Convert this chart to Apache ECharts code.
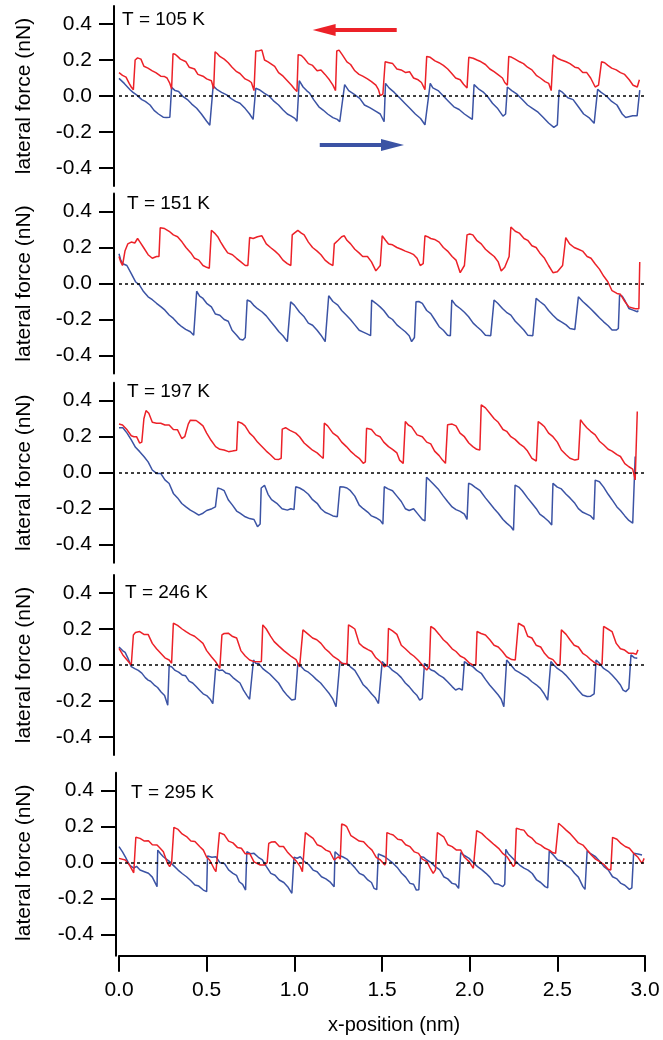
<!DOCTYPE html>
<html>
<head>
<meta charset="utf-8">
<title>lateral force vs x-position</title>
<script src="https://cdn.jsdelivr.net/npm/echarts@6/dist/echarts.min.js"></script>
<style>
  html, body { margin: 0; padding: 0; background: #fff; }
  #main { width: 663px; height: 1040px; }
</style>
</head>
<body>
<div id="main"></div>
<script>
// tick values
var xTicks = [0, 0.5, 1, 1.5, 2, 2.5, 3];
var yTicks = [-0.4, -0.2, 0, 0.2, 0.4];
var temps = ['T = 105 K', 'T = 151 K', 'T = 197 K', 'T = 246 K', 'T = 295 K'];

// [x (nm), lateral force (nN)]
var red105 = [[0,0.13],[0.02,0.115],[0.04,0.105],[0.058,0.07],[0.07,0.05],[0.082,0.035],[0.088,0.04],
  [0.092,0.2],[0.106,0.212],[0.125,0.205],[0.142,0.165],[0.165,0.155],[0.19,0.14],[0.21,0.13],[0.238,0.11],[0.26,0.108],[0.274,0.1],[0.29,0.07],[0.3,0.04],
  [0.308,0.235],[0.32,0.232],[0.334,0.22],[0.35,0.205],[0.382,0.19],[0.4,0.16],[0.431,0.15],[0.45,0.12],[0.479,0.11],[0.5,0.095],[0.527,0.085],[0.54,0.04],
  [0.548,0.245],[0.56,0.236],[0.575,0.22],[0.6,0.205],[0.623,0.185],[0.645,0.16],[0.671,0.135],[0.69,0.125],[0.719,0.095],[0.74,0.085],[0.755,0.075],[0.77,0.03],
  [0.78,0.25],[0.8,0.252],[0.815,0.255],[0.83,0.2],[0.85,0.19],[0.888,0.165],[0.91,0.13],[0.936,0.11],[0.96,0.085],[0.984,0.06],[1.0,0.04],[1.015,0.025],
  [1.022,0.23],[1.04,0.225],[1.056,0.21],[1.08,0.18],[1.104,0.17],[1.13,0.14],[1.152,0.145],[1.175,0.12],[1.2,0.09],[1.22,0.06],[1.235,0.03],
  [1.242,0.25],[1.255,0.255],[1.273,0.23],[1.3,0.19],[1.321,0.175],[1.345,0.14],[1.369,0.12],[1.39,0.11],[1.417,0.095],[1.44,0.08],[1.465,0.06],[1.48,0.035],[1.49,0.002],[1.505,0.01],
  [1.518,0.19],[1.54,0.185],[1.561,0.18],[1.585,0.15],[1.609,0.145],[1.635,0.13],[1.657,0.135],[1.68,0.1],[1.706,0.09],[1.725,0.075],[1.745,0.035],
  [1.755,0.22],[1.775,0.215],[1.802,0.195],[1.825,0.185],[1.85,0.17],[1.875,0.15],[1.898,0.125],[1.92,0.1],[1.946,0.09],[1.965,0.065],[1.985,0.045],
  [1.995,0.215],[2.02,0.21],[2.042,0.2],[2.065,0.19],[2.09,0.175],[2.115,0.15],[2.139,0.135],[2.16,0.12],[2.187,0.1],[2.2,0.075],[2.215,0.06],
  [2.223,0.22],[2.24,0.215],[2.259,0.205],[2.285,0.19],[2.307,0.18],[2.33,0.16],[2.355,0.145],[2.38,0.115],[2.403,0.1],[2.43,0.08],[2.451,0.07],[2.465,0.03],
  [2.476,0.228],[2.5,0.21],[2.523,0.2],[2.55,0.19],[2.572,0.18],[2.6,0.16],[2.62,0.155],[2.645,0.13],[2.668,0.13],[2.69,0.1],[2.716,0.05],[2.735,0.06],
  [2.752,0.19],[2.77,0.185],[2.788,0.17],[2.81,0.155],[2.836,0.145],[2.86,0.13],[2.884,0.12],[2.91,0.09],[2.932,0.06],[2.956,0.05],[2.968,0.09]];
var blue105 = [[0,0.098],[0.03,0.07],[0.063,0.035],[0.08,0.02],[0.1,0.006],[0.13,-0.02],[0.15,-0.03],[0.177,-0.05],[0.2,-0.08],[0.225,-0.1],[0.252,-0.118],[0.27,-0.12],[0.29,-0.118],
  [0.3,0.048],[0.32,0.03],[0.34,0.025],[0.366,-0.004],[0.39,-0.02],[0.415,-0.045],[0.443,-0.068],[0.47,-0.1],[0.5,-0.14],[0.518,-0.162],
  [0.537,0.056],[0.56,0.035],[0.585,0.02],[0.614,0.006],[0.64,-0.015],[0.665,-0.03],[0.69,-0.04],[0.72,-0.07],[0.745,-0.1],[0.765,-0.13],
  [0.78,0.043],[0.8,0.035],[0.83,0.015],[0.86,-0.004],[0.885,-0.03],[0.91,-0.05],[0.936,-0.078],[0.96,-0.1],[0.98,-0.11],[1.003,-0.124],[1.015,-0.14],
  [1.028,0.085],[1.05,0.05],[1.07,0.03],[1.088,0.015],[1.11,-0.02],[1.14,-0.06],[1.164,-0.078],[1.19,-0.1],[1.22,-0.12],[1.245,-0.13],[1.259,-0.143],
  [1.287,0.063],[1.31,0.03],[1.34,0.01],[1.373,-0.013],[1.4,-0.05],[1.43,-0.065],[1.468,-0.087],[1.49,-0.1],[1.512,-0.143],
  [1.52,0.07],[1.54,0.045],[1.57,0.02],[1.6,-0.01],[1.63,-0.04],[1.66,-0.07],[1.69,-0.1],[1.72,-0.125],[1.745,-0.16],
  [1.775,0.07],[1.79,0.045],[1.82,0.03],[1.85,0.0],[1.88,-0.03],[1.91,-0.06],[1.94,-0.075],[1.97,-0.1],[2.0,-0.12],[2.015,-0.13],
  [2.025,0.063],[2.05,0.04],[2.08,0.02],[2.1,0.0],[2.13,-0.04],[2.16,-0.07],[2.19,-0.112],[2.205,-0.1],
  [2.215,0.05],[2.24,0.03],[2.27,0.01],[2.3,-0.02],[2.33,-0.05],[2.36,-0.07],[2.39,-0.09],[2.42,-0.12],[2.45,-0.15],[2.48,-0.174],[2.5,-0.16],
  [2.51,0.033],[2.53,0.02],[2.56,-0.01],[2.59,-0.02],[2.62,-0.06],[2.65,-0.1],[2.68,-0.12],[2.71,-0.152],
  [2.73,0.037],[2.75,0.02],[2.78,0.0],[2.81,-0.03],[2.84,-0.05],[2.87,-0.1],[2.89,-0.12],[2.93,-0.11],[2.955,-0.11],[2.97,0.033]];

var red151 = [[0,0.15],[0.01,0.12],[0.02,0.1],[0.034,0.18],[0.05,0.22],[0.07,0.23],[0.09,0.225],[0.106,0.25],[0.12,0.23],[0.14,0.2],[0.166,0.16],[0.19,0.14],[0.214,0.15],[0.228,0.15],
  [0.235,0.31],[0.26,0.305],[0.286,0.29],[0.31,0.27],[0.334,0.26],[0.36,0.23],[0.382,0.2],[0.41,0.17],[0.431,0.14],[0.455,0.13],[0.479,0.1],[0.5,0.09],[0.515,0.085],
  [0.527,0.296],[0.545,0.28],[0.563,0.26],[0.58,0.23],[0.599,0.2],[0.62,0.17],[0.647,0.16],[0.67,0.14],[0.695,0.12],[0.72,0.1],[0.735,0.1],
  [0.745,0.255],[0.765,0.25],[0.79,0.26],[0.815,0.265],[0.84,0.22],[0.864,0.2],[0.89,0.18],[0.912,0.16],[0.935,0.13],[0.96,0.11],[0.98,0.1],
  [0.988,0.27],[1.0,0.28],[1.02,0.295],[1.04,0.28],[1.056,0.27],[1.08,0.23],[1.104,0.2],[1.13,0.18],[1.152,0.16],[1.175,0.13],[1.2,0.11],[1.22,0.1],
  [1.228,0.22],[1.25,0.24],[1.27,0.26],[1.285,0.265],[1.3,0.24],[1.321,0.22],[1.345,0.19],[1.369,0.17],[1.39,0.15],[1.417,0.15],[1.44,0.12],[1.465,0.07],[1.49,0.1],
  [1.501,0.265],[1.52,0.24],[1.537,0.22],[1.56,0.215],[1.585,0.2],[1.61,0.19],[1.633,0.18],[1.66,0.17],[1.681,0.16],[1.7,0.14],[1.718,0.1],[1.735,0.11],
  [1.745,0.265],[1.76,0.26],[1.778,0.25],[1.8,0.245],[1.826,0.23],[1.85,0.2],[1.874,0.18],[1.9,0.15],[1.922,0.13],[1.946,0.06],[1.97,0.1],
  [1.985,0.27],[2.0,0.275],[2.018,0.27],[2.04,0.24],[2.066,0.22],[2.09,0.19],[2.114,0.17],[2.14,0.15],[2.163,0.12],[2.18,0.07],[2.2,0.09],[2.225,0.15],
  [2.235,0.314],[2.26,0.29],[2.283,0.28],[2.31,0.25],[2.331,0.24],[2.355,0.21],[2.379,0.2],[2.4,0.17],[2.427,0.14],[2.45,0.1],[2.475,0.06],[2.5,0.065],[2.53,0.1],
  [2.548,0.255],[2.57,0.22],[2.596,0.2],[2.62,0.19],[2.644,0.18],[2.67,0.15],[2.692,0.14],[2.715,0.11],[2.74,0.08],[2.765,0.04],[2.788,0.01],[2.812,-0.04],[2.84,-0.055],[2.86,-0.06],[2.885,-0.1],[2.908,-0.13],[2.944,-0.14],[2.965,-0.14],[2.97,0.12]];
var blue151 = [[0,0.165],[0.01,0.13],[0.022,0.11],[0.045,0.1],[0.07,0.055],[0.094,0.01],[0.105,0.02],[0.118,-0.01],[0.14,-0.045],[0.166,-0.074],[0.19,-0.09],[0.214,-0.11],[0.24,-0.13],[0.262,-0.148],[0.286,-0.175],[0.31,-0.194],[0.334,-0.22],[0.358,-0.24],[0.38,-0.255],[0.407,-0.268],[0.426,-0.287],
  [0.443,-0.043],[0.46,-0.07],[0.479,-0.083],[0.5,-0.11],[0.527,-0.13],[0.55,-0.17],[0.575,-0.176],[0.6,-0.2],[0.623,-0.21],[0.645,-0.26],[0.671,-0.287],[0.69,-0.31],[0.707,-0.314],[0.72,-0.3],
  [0.731,-0.092],[0.75,-0.1],[0.767,-0.12],[0.79,-0.14],[0.815,-0.157],[0.84,-0.18],[0.864,-0.21],[0.89,-0.24],[0.912,-0.268],[0.935,-0.29],[0.96,-0.323],
  [0.979,-0.102],[1.0,-0.12],[1.03,-0.16],[1.056,-0.185],[1.08,-0.22],[1.104,-0.232],[1.13,-0.26],[1.152,-0.287],[1.176,-0.323],
  [1.196,-0.068],[1.22,-0.1],[1.248,-0.12],[1.27,-0.15],[1.297,-0.176],[1.32,-0.2],[1.345,-0.23],[1.37,-0.26],[1.393,-0.27],[1.415,-0.28],[1.435,-0.29],
  [1.441,-0.092],[1.465,-0.11],[1.489,-0.13],[1.51,-0.15],[1.537,-0.185],[1.56,-0.2],[1.585,-0.23],[1.61,-0.25],[1.633,-0.268],[1.655,-0.29],[1.669,-0.323],[1.685,-0.3],
  [1.694,-0.102],[1.71,-0.1],[1.73,-0.11],[1.755,-0.15],[1.778,-0.167],[1.8,-0.2],[1.826,-0.24],[1.85,-0.26],[1.874,-0.287],[1.89,-0.29],
  [1.898,-0.092],[1.92,-0.12],[1.946,-0.139],[1.97,-0.16],[1.994,-0.185],[2.02,-0.22],[2.042,-0.24],[2.065,-0.26],[2.09,-0.287],[2.12,-0.29],
  [2.139,-0.092],[2.16,-0.11],[2.187,-0.139],[2.21,-0.16],[2.235,-0.176],[2.26,-0.21],[2.283,-0.232],[2.31,-0.26],[2.331,-0.287],[2.36,-0.29],
  [2.379,-0.083],[2.4,-0.1],[2.427,-0.12],[2.45,-0.15],[2.475,-0.176],[2.5,-0.2],[2.523,-0.213],[2.55,-0.23],[2.572,-0.25],[2.6,-0.255],
  [2.62,-0.074],[2.645,-0.1],[2.668,-0.12],[2.69,-0.14],[2.716,-0.166],[2.74,-0.19],[2.764,-0.213],[2.79,-0.235],[2.812,-0.259],[2.836,-0.259],[2.848,-0.25],
  [2.855,-0.065],[2.87,-0.07],[2.884,-0.092],[2.908,-0.139],[2.932,-0.148],[2.956,-0.157],[2.962,-0.15]];

var red197 = [[0,0.27],[0.02,0.265],[0.046,0.238],[0.07,0.205],[0.085,0.2],[0.1,0.2],[0.118,0.164],[0.13,0.17],[0.142,0.3],[0.154,0.345],[0.17,0.33],[0.19,0.28],[0.214,0.275],[0.238,0.275],[0.262,0.265],[0.286,0.265],[0.31,0.24],[0.334,0.238],[0.358,0.19],[0.375,0.2],[0.395,0.27],[0.407,0.292],[0.44,0.29],[0.46,0.275],[0.479,0.26],[0.5,0.22],[0.525,0.18],[0.551,0.145],[0.575,0.13],[0.599,0.126],[0.625,0.117],[0.647,0.12],[0.671,0.125],
  [0.678,0.284],[0.7,0.275],[0.719,0.26],[0.745,0.22],[0.767,0.2],[0.79,0.17],[0.815,0.145],[0.84,0.12],[0.864,0.1],[0.89,0.075],[0.912,0.074],[0.925,0.08],
  [0.931,0.242],[0.95,0.25],[0.975,0.235],[1.008,0.22],[1.03,0.2],[1.056,0.165],[1.08,0.145],[1.104,0.125],[1.13,0.11],[1.152,0.09],[1.165,0.08],
  [1.171,0.275],[1.19,0.26],[1.22,0.22],[1.248,0.2],[1.27,0.17],[1.297,0.145],[1.32,0.12],[1.345,0.098],[1.37,0.08],[1.393,0.052],[1.405,0.06],
  [1.412,0.247],[1.44,0.24],[1.465,0.21],[1.489,0.2],[1.51,0.17],[1.537,0.145],[1.56,0.13],[1.585,0.11],[1.6,0.07],[1.621,0.052],
  [1.633,0.284],[1.65,0.265],[1.669,0.255],[1.7,0.21],[1.73,0.2],[1.755,0.17],[1.778,0.16],[1.8,0.12],[1.826,0.095],[1.845,0.07],[1.862,0.052],
  [1.874,0.266],[1.9,0.27],[1.922,0.26],[1.945,0.22],[1.97,0.2],[1.995,0.165],[2.018,0.145],[2.04,0.13],[2.058,0.126],
  [2.066,0.377],[2.09,0.36],[2.115,0.33],[2.14,0.3],[2.163,0.28],[2.19,0.24],[2.211,0.23],[2.235,0.2],[2.259,0.185],[2.285,0.16],[2.307,0.145],[2.33,0.12],[2.355,0.08],[2.38,0.065],
  [2.391,0.284],[2.41,0.27],[2.427,0.255],[2.45,0.22],[2.475,0.2],[2.5,0.17],[2.523,0.126],[2.55,0.1],[2.572,0.08],[2.6,0.07],[2.62,0.075],
  [2.632,0.294],[2.65,0.27],[2.668,0.25],[2.69,0.23],[2.716,0.21],[2.74,0.175],[2.764,0.155],[2.79,0.13],[2.812,0.12],[2.84,0.1],[2.86,0.09],[2.885,0.05],[2.908,0.033],[2.93,0.02],[2.944,-0.04],[2.956,0.34]];
var blue197 = [[0,0.25],[0.022,0.25],[0.046,0.22],[0.07,0.182],[0.094,0.141],[0.118,0.117],[0.142,0.09],[0.166,0.06],[0.19,0.015],[0.214,-0.004],[0.238,-0.004],[0.262,-0.04],[0.286,-0.06],[0.31,-0.115],[0.334,-0.14],[0.358,-0.171],[0.382,-0.19],[0.407,-0.208],[0.43,-0.22],[0.455,-0.236],[0.479,-0.225],[0.5,-0.21],[0.53,-0.2],[0.55,-0.19],
  [0.563,-0.085],[0.58,-0.09],[0.6,-0.1],[0.623,-0.15],[0.647,-0.18],[0.671,-0.213],[0.69,-0.225],[0.72,-0.245],[0.745,-0.255],[0.77,-0.26],[0.79,-0.3],[0.805,-0.285],
  [0.811,-0.085],[0.83,-0.07],[0.85,-0.12],[0.87,-0.15],[0.9,-0.17],[0.93,-0.2],[0.96,-0.208],[0.98,-0.2],[0.998,-0.205],
  [1.008,-0.078],[1.03,-0.085],[1.056,-0.1],[1.08,-0.12],[1.104,-0.15],[1.13,-0.17],[1.152,-0.2],[1.175,-0.22],[1.2,-0.23],[1.22,-0.24],[1.245,-0.245],
  [1.26,-0.078],[1.28,-0.08],[1.3,-0.085],[1.32,-0.1],[1.345,-0.13],[1.37,-0.18],[1.393,-0.2],[1.42,-0.22],[1.44,-0.24],[1.465,-0.25],[1.49,-0.265],[1.505,-0.286],
  [1.513,-0.078],[1.535,-0.09],[1.56,-0.1],[1.585,-0.13],[1.61,-0.16],[1.633,-0.2],[1.655,-0.21],[1.68,-0.2],[1.705,-0.23],[1.73,-0.26],[1.745,-0.268],
  [1.754,-0.026],[1.77,-0.04],[1.79,-0.06],[1.82,-0.09],[1.85,-0.13],[1.874,-0.16],[1.9,-0.19],[1.922,-0.205],[1.946,-0.215],[1.97,-0.23],[1.985,-0.26],
  [1.994,-0.059],[2.01,-0.065],[2.03,-0.08],[2.06,-0.1],[2.09,-0.14],[2.115,-0.17],[2.14,-0.2],[2.163,-0.225],[2.19,-0.26],[2.211,-0.28],[2.235,-0.3],[2.25,-0.32],
  [2.259,-0.069],[2.28,-0.08],[2.3,-0.1],[2.33,-0.14],[2.355,-0.17],[2.38,-0.2],[2.4,-0.23],[2.427,-0.25],[2.45,-0.27],[2.468,-0.29],
  [2.475,-0.059],[2.5,-0.08],[2.523,-0.09],[2.55,-0.12],[2.572,-0.14],[2.6,-0.17],[2.62,-0.2],[2.645,-0.22],[2.668,-0.23],[2.69,-0.24],[2.708,-0.26],
  [2.716,-0.041],[2.74,-0.05],[2.764,-0.08],[2.79,-0.12],[2.812,-0.15],[2.84,-0.19],[2.86,-0.21],[2.885,-0.24],[2.908,-0.265],[2.93,-0.28],[2.938,-0.27],[2.944,0.09]];

var red246 = [[0,0.093],[0.022,0.056],[0.046,0.028],[0.07,0.0],[0.078,0.002],
  [0.082,0.167],[0.094,0.18],[0.118,0.186],[0.142,0.17],[0.166,0.17],[0.19,0.12],[0.214,0.09],[0.238,0.065],[0.262,0.04],[0.286,0.028],[0.3,0.01],
  [0.31,0.232],[0.334,0.22],[0.36,0.2],[0.382,0.185],[0.407,0.17],[0.431,0.16],[0.455,0.14],[0.479,0.12],[0.5,0.08],[0.527,0.046],[0.55,0.02],[0.575,-0.019],
  [0.587,0.167],[0.6,0.175],[0.623,0.177],[0.645,0.16],[0.671,0.15],[0.695,0.08],[0.72,0.05],[0.745,0.028],[0.767,0.02],[0.8,0.018],[0.812,0.02],
  [0.82,0.223],[0.84,0.2],[0.864,0.16],[0.885,0.13],[0.912,0.105],[0.94,0.08],[0.96,0.065],[0.984,0.046],[1.01,0.03],[1.03,-0.01],[1.04,0.0],
  [1.049,0.195],[1.08,0.17],[1.104,0.15],[1.128,0.14],[1.152,0.12],[1.176,0.09],[1.2,0.07],[1.224,0.046],[1.25,0.03],[1.27,0.01],[1.3,0.005],
  [1.309,0.223],[1.33,0.21],[1.345,0.2],[1.37,0.12],[1.393,0.1],[1.42,0.085],[1.441,0.075],[1.465,0.04],[1.489,0.02],[1.513,-0.01],[1.53,0.0],
  [1.537,0.204],[1.56,0.19],[1.585,0.17],[1.61,0.11],[1.633,0.09],[1.66,0.065],[1.681,0.05],[1.705,0.028],[1.73,0.0],[1.755,-0.028],[1.77,-0.01],
  [1.778,0.214],[1.8,0.2],[1.826,0.17],[1.85,0.14],[1.874,0.12],[1.9,0.09],[1.922,0.075],[1.946,0.05],[1.97,0.038],[2.0,0.01],[2.018,0.0],[2.035,0.0],
  [2.042,0.186],[2.065,0.175],[2.09,0.167],[2.115,0.14],[2.139,0.11],[2.163,0.1],[2.187,0.075],[2.21,0.046],[2.24,0.03],[2.26,0.028],[2.27,0.02],
  [2.278,0.232],[2.31,0.214],[2.331,0.16],[2.355,0.15],[2.379,0.11],[2.405,0.1],[2.427,0.065],[2.45,0.04],[2.475,0.03],[2.5,0.0],[2.515,0.0],
  [2.523,0.195],[2.55,0.17],[2.572,0.14],[2.596,0.11],[2.62,0.1],[2.645,0.065],[2.668,0.05],[2.692,0.028],[2.716,0.01],[2.74,0.0],[2.755,0.005],
  [2.764,0.214],[2.788,0.2],[2.812,0.186],[2.836,0.12],[2.86,0.09],[2.884,0.083],[2.908,0.065],[2.932,0.065],[2.95,0.06],[2.96,0.084]];
var blue246 = [[0,0.1],[0.02,0.08],[0.035,0.07],[0.05,0.04],[0.07,-0.009],[0.09,-0.02],[0.11,-0.03],[0.13,-0.045],[0.15,-0.07],[0.166,-0.084],[0.18,-0.09],[0.2,-0.11],[0.22,-0.125],[0.24,-0.15],[0.26,-0.17],[0.27,-0.18],[0.278,-0.223],
  [0.286,-0.006],[0.3,-0.01],[0.32,-0.03],[0.34,-0.04],[0.36,-0.055],[0.38,-0.06],[0.4,-0.09],[0.42,-0.1],[0.44,-0.12],[0.46,-0.14],[0.48,-0.16],[0.5,-0.17],[0.52,-0.19],[0.535,-0.215],
  [0.551,-0.019],[0.57,-0.03],[0.59,-0.028],[0.61,-0.045],[0.63,-0.05],[0.65,-0.07],[0.67,-0.085],[0.69,-0.1],[0.71,-0.14],[0.73,-0.17],[0.745,-0.19],[0.755,-0.185],
  [0.767,0.028],[0.78,0.01],[0.8,0.005],[0.82,-0.02],[0.84,-0.035],[0.86,-0.05],[0.885,-0.075],[0.91,-0.1],[0.935,-0.14],[0.96,-0.17],[0.985,-0.195],[1.005,-0.19],
  [1.02,0.009],[1.04,-0.01],[1.06,-0.03],[1.08,-0.04],[1.104,-0.06],[1.125,-0.08],[1.15,-0.1],[1.175,-0.13],[1.2,-0.16],[1.22,-0.19],[1.238,-0.232],
  [1.26,0.019],[1.28,0.005],[1.3,0.009],[1.32,-0.01],[1.345,-0.03],[1.37,-0.07],[1.393,-0.11],[1.415,-0.13],[1.44,-0.16],[1.46,-0.18],[1.48,-0.214],
  [1.501,0.019],[1.52,0.0],[1.54,-0.01],[1.56,-0.03],[1.585,-0.046],[1.61,-0.07],[1.633,-0.1],[1.655,-0.12],[1.68,-0.15],[1.7,-0.17],[1.715,-0.195],[1.73,-0.185],
  [1.742,0.009],[1.76,-0.01],[1.78,-0.028],[1.8,-0.035],[1.826,-0.056],[1.85,-0.07],[1.874,-0.093],[1.9,-0.12],[1.92,-0.139],[1.94,-0.13],[1.958,-0.14],
  [1.97,0.019],[1.99,0.005],[2.018,-0.009],[2.04,-0.03],[2.066,-0.046],[2.09,-0.08],[2.114,-0.111],[2.14,-0.14],[2.163,-0.167],[2.18,-0.19],[2.195,-0.232],
  [2.211,0.028],[2.235,0.0],[2.259,-0.028],[2.28,-0.04],[2.307,-0.056],[2.33,-0.07],[2.355,-0.093],[2.38,-0.11],[2.403,-0.13],[2.425,-0.16],[2.445,-0.195],
  [2.463,0.019],[2.48,0.0],[2.5,-0.019],[2.525,-0.035],[2.548,-0.056],[2.57,-0.08],[2.596,-0.111],[2.62,-0.14],[2.644,-0.167],[2.67,-0.175],[2.69,-0.173],[2.71,-0.16],
  [2.721,0.028],[2.74,0.01],[2.764,-0.019],[2.79,-0.035],[2.812,-0.056],[2.835,-0.08],[2.86,-0.111],[2.875,-0.14],[2.89,-0.148],[2.908,-0.13],
  [2.92,0.056],[2.94,0.04],[2.956,0.037]];

var red295 = [[0,0.024],[0.036,0.015],[0.06,-0.013],[0.084,-0.056],
  [0.096,0.141],[0.12,0.135],[0.145,0.12],[0.168,0.122],[0.19,0.1],[0.217,0.098],[0.235,0.08],[0.253,0.061],[0.277,-0.004],[0.289,-0.022],[0.3,0.0],
  [0.313,0.196],[0.337,0.185],[0.36,0.16],[0.385,0.145],[0.41,0.12],[0.433,0.118],[0.46,0.09],[0.481,0.07],[0.5,0.03],[0.517,0.015],[0.541,-0.031],[0.553,-0.05],
  [0.573,0.167],[0.601,0.155],[0.625,0.12],[0.65,0.11],[0.675,0.085],[0.698,0.08],[0.72,0.05],[0.746,0.05],[0.77,0.005],[0.806,-0.013],[0.83,-0.013],[0.845,0.0],
  [0.854,0.107],[0.87,0.115],[0.89,0.117],[0.915,0.09],[0.938,0.09],[0.96,0.06],[0.986,0.033],[1.01,0.01],[1.034,-0.022],[1.046,-0.05],
  [1.063,0.167],[1.085,0.15],[1.107,0.135],[1.13,0.1],[1.155,0.09],[1.18,0.07],[1.203,0.061],[1.227,0.015],[1.251,0.033],[1.262,0.02],
  [1.27,0.215],[1.285,0.21],[1.299,0.2],[1.323,0.15],[1.347,0.135],[1.37,0.12],[1.395,0.117],[1.42,0.09],[1.443,0.07],[1.467,0.03],[1.491,0.015],[1.516,-0.013],[1.522,0.0],
  [1.528,0.167],[1.545,0.16],[1.564,0.154],[1.59,0.13],[1.612,0.126],[1.635,0.1],[1.66,0.089],[1.685,0.06],[1.708,0.052],[1.73,0.02],[1.756,0.006],[1.775,-0.03],[1.792,-0.059],[1.805,-0.04],
  [1.816,0.167],[1.835,0.155],[1.852,0.144],[1.875,0.1],[1.9,0.089],[1.925,0.07],[1.949,0.07],[1.97,0.03],[1.997,0.006],[2.021,-0.031],[2.032,-0.02],
  [2.04,0.178],[2.069,0.163],[2.093,0.14],[2.117,0.12],[2.14,0.1],[2.165,0.08],[2.19,0.05],[2.213,0.033],[2.235,0.0],[2.249,-0.022],[2.258,-0.01],
  [2.266,0.191],[2.288,0.185],[2.309,0.181],[2.333,0.15],[2.357,0.135],[2.38,0.11],[2.406,0.098],[2.43,0.08],[2.454,0.07],[2.475,0.055],[2.49,0.052],[2.5,0.06],
  [2.507,0.219],[2.53,0.2],[2.55,0.181],[2.575,0.16],[2.598,0.135],[2.62,0.11],[2.646,0.098],[2.67,0.07],[2.694,0.043],[2.718,0.02],[2.742,0.006],[2.766,-0.01],[2.79,-0.037],[2.805,-0.04],
  [2.815,0.141],[2.84,0.13],[2.863,0.107],[2.887,0.09],[2.911,0.08],[2.935,0.052],[2.96,0.03],[2.983,-0.004],[2.995,0.024]];
var blue295 = [[0,0.089],[0.02,0.06],[0.036,0.033],[0.06,-0.013],[0.084,-0.03],[0.1,-0.02],[0.12,-0.041],[0.145,-0.05],[0.168,-0.059],[0.19,-0.08],[0.217,-0.133],
  [0.221,0.07],[0.237,0.05],[0.253,0.033],[0.27,0.02],[0.289,0.006],[0.31,-0.015],[0.337,-0.041],[0.36,-0.06],[0.385,-0.078],[0.41,-0.1],[0.433,-0.124],[0.455,-0.13],[0.481,-0.152],[0.5,-0.161],
  [0.505,0.037],[0.53,0.03],[0.553,0.033],[0.575,0.0],[0.601,-0.004],[0.625,-0.04],[0.65,-0.059],[0.67,-0.07],[0.686,-0.106],[0.705,-0.12],[0.722,-0.152],
  [0.729,0.061],[0.75,0.05],[0.77,0.052],[0.795,0.03],[0.818,0.015],[0.84,-0.02],[0.866,-0.059],[0.89,-0.07],[0.914,-0.096],[0.94,-0.11],[0.962,-0.133],[0.986,-0.17],
  [0.998,0.03],[1.016,0.025],[1.034,0.033],[1.058,0.006],[1.082,-0.01],[1.107,-0.041],[1.13,-0.05],[1.155,-0.078],[1.18,-0.09],[1.203,-0.106],[1.227,-0.133],
  [1.232,0.061],[1.255,0.04],[1.275,0.033],[1.3,0.02],[1.323,-0.004],[1.347,-0.03],[1.371,-0.059],[1.395,-0.07],[1.419,-0.096],[1.44,-0.11],[1.455,-0.143],[1.47,-0.15],
  [1.479,0.048],[1.5,0.04],[1.516,0.033],[1.54,0.015],[1.564,-0.004],[1.59,-0.03],[1.612,-0.059],[1.635,-0.08],[1.66,-0.115],[1.68,-0.12],[1.696,-0.152],[1.71,-0.15],
  [1.72,0.033],[1.738,0.03],[1.756,0.015],[1.78,0.0],[1.804,-0.022],[1.83,-0.04],[1.852,-0.078],[1.875,-0.09],[1.9,-0.115],[1.92,-0.12],[1.937,-0.143],
  [1.949,0.056],[1.97,0.04],[1.997,0.024],[2.02,0.0],[2.045,-0.022],[2.07,-0.04],[2.093,-0.059],[2.115,-0.08],[2.141,-0.115],[2.165,-0.12],[2.189,-0.133],[2.2,-0.12],
  [2.206,0.074],[2.22,0.05],[2.237,0.033],[2.26,0.01],[2.285,-0.013],[2.31,-0.03],[2.333,-0.041],[2.357,-0.06],[2.382,-0.096],[2.405,-0.11],[2.43,-0.133],[2.445,-0.14],
  [2.454,0.067],[2.48,0.04],[2.502,0.015],[2.525,0.01],[2.55,-0.013],[2.575,-0.03],[2.598,-0.059],[2.62,-0.08],[2.646,-0.133],[2.658,-0.148],
  [2.67,0.067],[2.69,0.05],[2.718,0.033],[2.74,0.01],[2.766,-0.022],[2.79,-0.04],[2.815,-0.078],[2.84,-0.09],[2.863,-0.115],[2.885,-0.125],[2.911,-0.148],[2.925,-0.14],
  [2.935,0.052],[2.96,0.048],[2.983,0.043]];

var reds = [red105, red151, red197, red246, red295];
var blues = [blue105, blue151, blue197, blue246, blue295];

var RED = '#ec2128';
var BLUE = '#3b53a4';
var FONT = '"Liberation Sans", Arial, Helvetica, sans-serif';

// panel boxes in pixels
var panels = [
  { top: 6,     height: 180, min: -0.5,    axisOffset: 5, tx: 122, ty: 20 },
  { top: 193.5, height: 180, min: -0.5,    axisOffset: 5, tx: 127, ty: 204 },
  { top: 382.7, height: 180, min: -0.5,    axisOffset: 5, tx: 127, ty: 392 },
  { top: 575,   height: 180, min: -0.5,    axisOffset: 5, tx: 125, ty: 593 },
  { top: 772.7, height: 183, min: -0.5167, axisOffset: 3, tx: 131, ty: 793 }
];

var grids = [], xAxes = [], yAxes = [], series = [], graphics = [];

panels.forEach(function (p, i) {
  var last = i === panels.length - 1;
  grids.push({ left: 119, width: 526, top: p.top, height: p.height, outerBoundsMode: 'none', containLabel: false });
  xAxes.push({
    gridIndex: i, type: 'value', min: 0, max: 3, show: last,
    axisLine: { show: last, onZero: false, lineStyle: { color: '#000', width: 2 } },
    axisTick: { show: last, length: 16, customValues: xTicks, lineStyle: { color: '#000', width: 2 } },
    axisLabel: { show: last, customValues: xTicks, margin: 24, fontSize: 21, color: '#000', fontFamily: FONT,
      formatter: function (v) { return v.toFixed(1); } },
    splitLine: { show: false }
  });
  yAxes.push({
    gridIndex: i, type: 'value', min: p.min, max: 0.5, offset: p.axisOffset,
    axisLine: { show: true, onZero: false, lineStyle: { color: '#000', width: 2 } },
    axisTick: { show: true, length: 15, customValues: yTicks, lineStyle: { color: '#000', width: 2 } },
    axisLabel: { customValues: yTicks, margin: 22, fontSize: 21, color: '#000', fontFamily: FONT,
      formatter: function (v) { return v.toFixed(1); } },
    splitLine: { show: false }
  });

  // dotted zero line
  var zeroLine = {
    silent: true, symbol: ['none', 'none'], label: { show: false },
    lineStyle: { color: '#000', type: [3, 3], width: 1.5 },
    data: [{ yAxis: 0 }]
  };
  series.push({
    type: 'line', xAxisIndex: i, yAxisIndex: i, data: blues[i], showSymbol: false, symbol: 'none',
    lineStyle: { color: BLUE, width: 1.5 }, itemStyle: { color: BLUE }, markLine: zeroLine, z: 2
  });
  series.push({
    type: 'line', xAxisIndex: i, yAxisIndex: i, data: reds[i], showSymbol: false, symbol: 'none',
    lineStyle: { color: RED, width: 1.5 }, itemStyle: { color: RED }, z: 3
  });

  graphics.push({
    type: 'text', x: p.tx, y: p.ty,
    style: { text: temps[i], font: '19px ' + FONT, fill: '#000', align: 'left', verticalAlign: 'middle' }
  });
  graphics.push({
    type: 'text', x: 24, y: p.top + p.height * 0.5 / (0.5 - p.min), rotation: Math.PI / 2,
    style: { text: 'lateral force (nN)', font: '21px ' + FONT, fill: '#000', align: 'center', verticalAlign: 'middle' }
  });
});

// direction arrows in the top panel
series.push({
  type: 'line', xAxisIndex: 0, yAxisIndex: 0, data: [], silent: true,
  markLine: {
    silent: true, label: { show: false }, animation: false,
    data: [
      [{ coord: [1.584, 0.367], symbol: 'none', lineStyle: { color: RED, width: 4, type: 'solid' } },
       { coord: [1.17, 0.367], symbol: 'triangle', symbolSize: [12, 23] }],
      [{ coord: [1.145, -0.272], symbol: 'none', lineStyle: { color: BLUE, width: 4, type: 'solid' } },
       { coord: [1.56, -0.272], symbol: 'triangle', symbolSize: [12, 23] }]
    ]
  }
});

graphics.push({
  type: 'text', x: 328, y: 1025,
  style: { text: 'x-position (nm)', font: '20px ' + FONT, fill: '#000', align: 'left', verticalAlign: 'middle' }
});

var chart = echarts.init(document.getElementById('main'));
chart.setOption({
  animation: false,
  backgroundColor: '#fff',
  grid: grids,
  xAxis: xAxes,
  yAxis: yAxes,
  series: series,
  graphic: graphics
});
</script>
</body>
</html>
